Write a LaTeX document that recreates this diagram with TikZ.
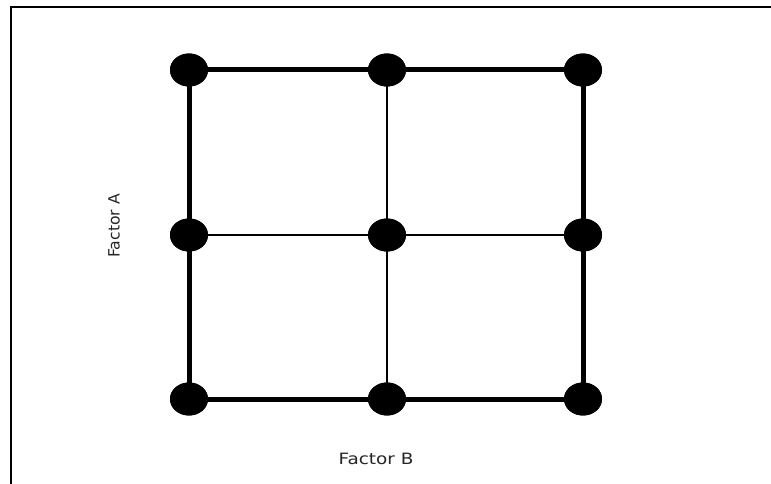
\documentclass[tikz,border=0pt]{standalone}
\usepackage{fontspec}
\setmainfont{DejaVu Sans}
\usetikzlibrary{shapes.geometric}
\begin{document}
\begin{tikzpicture}[x=1pt,y=-1pt,
  dot/.style={ellipse,fill=black,draw=none,minimum width=38pt,minimum height=33pt,inner sep=0pt},
  thickedge/.style={line width=5pt,black},
  thinedge/.style={line width=2.4pt,black},
  frameline/.style={line width=2.4pt,black},
  lab/.style={text=black!85,font=\fontsize{15.6}{18}\selectfont,inner sep=0pt}]
\useasboundingbox (0,0) rectangle (771,484);
\coordinate (fa) at (11,484);
\coordinate (fb) at (11,7);
\coordinate (fc) at (771,7);
\draw[frameline] (fa) -- (fb) -- (fc);
\node[dot] (n11) at (189,70) {};
\node[dot] (n12) at (387,70) {};
\node[dot] (n13) at (583,70) {};
\node[dot] (n21) at (189,235) {};
\node[dot] (n22) at (387,235) {};
\node[dot] (n23) at (583,235) {};
\node[dot] (n31) at (189,399) {};
\node[dot] (n32) at (387,399) {};
\node[dot] (n33) at (583,399) {};
\draw[thinedge] (n12.center) -- (n22.center) -- (n32.center);
\draw[thinedge] (n21.center) -- (n22.center) -- (n23.center);
\draw[thickedge] (n11.center) -- (n12.center) -- (n13.center) -- (n23.center) -- (n33.center) -- (n32.center) -- (n31.center) -- (n21.center) -- cycle;
\foreach \n in {n11,n12,n13,n21,n22,n23,n31,n32,n33} {\node[dot] at (\n) {};}
\node[lab,rotate=90] (fA) at (114,226) {Factor A};
\node[lab,xscale=1.18] (fB) at (376,458.5) {Factor B};
\end{tikzpicture}
\end{document}
